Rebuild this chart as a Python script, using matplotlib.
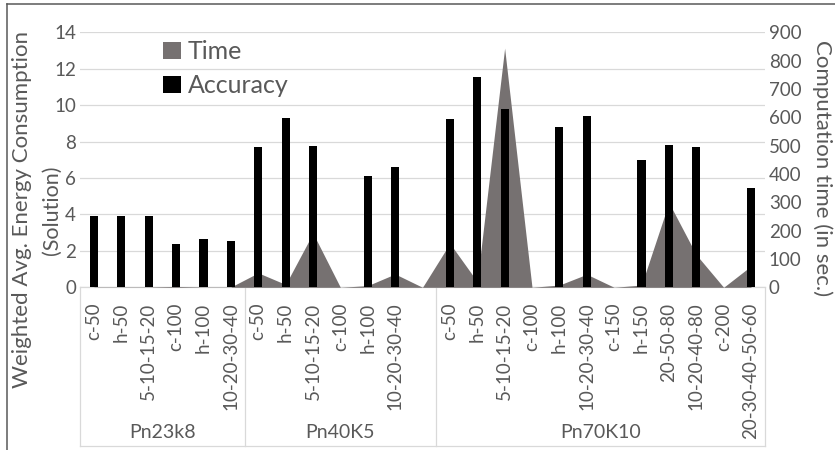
import matplotlib
matplotlib.use('Agg')
import matplotlib.pyplot as plt
import numpy as np
from matplotlib.patches import Patch
from matplotlib.lines import Line2D

# ---------------- data ----------------
categories = ['c-50', 'h-50', '5-10-15-20', 'c-100', 'h-100', '10-20-30-40',
              'c-50', 'h-50', '5-10-15-20', 'c-100', 'h-100', '10-20-30-40', '',
              'c-50', 'h-50', '5-10-15-20', 'c-100', 'h-100', '10-20-30-40',
              'c-150', 'h-150', '20-50-80', '10-20-40-80', 'c-200', '20-30-40-50-60']
groups = ['Pn23k8', 'Pn40K5', 'Pn70K10']
group_sizes = [6, 7, 12]
accuracy = [3.9, 3.9, 3.9, 2.38, 2.64, 2.54,
            7.69, 9.32, 7.78, 0, 6.1, 6.59, 0,
            9.26, 11.55, 9.79, 0, 8.82, 9.39, 0, 6.99, 7.81, 7.70, 0, 5.45]
time_sec = [1, 1, 1, 3, 1, 1,
            51, 10, 191, 0, 6, 47, 0,
            155, 20, 844, 0, 8, 46, 0, 8, 299, 115, 0, 75]
left_ticks = [0, 2, 4, 6, 8, 10, 12, 14]
right_ticks = [0, 100, 200, 300, 400, 500, 600, 700, 800, 900]
legend_labels = ['Time', 'Accuracy']

# ---------------- style ----------------
plt.rcParams['font.family'] = ['Lato', 'DejaVu Sans']
TXT = '#595959'
GRID = '#D9D9D9'
AREA = '#767171'
BAR = '#000000'

W, H = 835, 450
fig = plt.figure(figsize=(W / 100, H / 100), dpi=100)
fig.patch.set_facecolor('white')

left_px, right_px, top_px, bot_px = 80.3, 764.7, 32.3, 287.3
pos = [left_px / W, 1 - bot_px / H, (right_px - left_px) / W, (bot_px - top_px) / H]

ax = fig.add_axes(pos)          # grid, left ticks, category labels
ax2 = ax.twinx()                # time area (right axis)
ax3 = fig.add_axes(pos, sharex=ax)  # accuracy bars
ax.set_zorder(1)
ax2.set_zorder(2)
ax3.set_zorder(3)
ax2.patch.set_visible(False)

x = np.arange(len(categories))

# area
ax2.fill_between(x, time_sec, 0, color=AREA, lw=0)
ax2.set_ylim(0, 900)
ax2.set_yticks(right_ticks)
ax2.tick_params(axis='y', length=0, pad=3, labelsize=13.5, labelcolor=TXT)

# bars
ax3.bar(x, accuracy, width=0.3, color=BAR, lw=0)
ax3.set_ylim(0, 14)
ax3.axis('off')

# primary axis
ax.set_xlim(-0.5, len(categories) - 0.5)
ax.set_ylim(0, 14)
ax.set_yticks(left_ticks)
ax.yaxis.grid(True, color=GRID, lw=0.9)
ax.set_axisbelow(True)
ax.tick_params(axis='y', length=0, pad=3, labelsize=13.5, labelcolor=TXT)
ax.set_xticks(x)
ax.set_xticklabels(categories, rotation=90, fontsize=13.5, color=TXT)
ax.tick_params(axis='x', length=0, pad=11)
for a in (ax, ax2):
    for s in a.spines.values():
        s.set_visible(False)
ax.spines['bottom'].set_visible(True)
ax.spines['bottom'].set_color(GRID)
ax.spines['bottom'].set_linewidth(0.9)

# category table below the axis
tr = ax.get_xaxis_transform()
table_bottom = -(445.5 - bot_px) / (bot_px - top_px)
label_y = -(432 - bot_px) / (bot_px - top_px)
bounds = np.concatenate([[0], np.cumsum(group_sizes)]) - 0.5
ax.plot([bounds[0], bounds[-1]], [table_bottom, table_bottom], transform=tr,
        color=GRID, lw=0.9, clip_on=False)
for b in bounds:
    ax.plot([b, b], [0, table_bottom], transform=tr, color=GRID, lw=0.9, clip_on=False)
for g, a_, b_ in zip(groups, bounds[:-1], bounds[1:]):
    ax.text((a_ + b_) / 2, label_y, g, transform=tr, ha='center', va='center',
            fontsize=14, color=TXT)

# axis titles
fig.text(22 / W, 1 - 210 / H, 'Weighted Avg. Energy Consumption', rotation=90,
         ha='center', va='center', fontsize=16, color=TXT)
fig.text(52 / W, 1 - 210 / H, '(Solution)', rotation=90,
         ha='center', va='center', fontsize=15.5, color=TXT)
fig.text(822 / W, 1 - 168 / H, 'Computation time (in sec.)', rotation=-90,
         ha='center', va='center', fontsize=16, color=TXT)

# legend
handles = [Patch(facecolor=AREA, edgecolor='none'), Patch(facecolor=BAR, edgecolor='none')]
leg = ax3.legend(handles, legend_labels, loc='upper left',
                 bbox_to_anchor=(163 / W, 1 - 40 / H), bbox_transform=fig.transFigure,
                 frameon=False, fontsize=18, handlelength=0.7, handleheight=0.65,
                 handletextpad=0.3, labelspacing=0.45, borderpad=0, borderaxespad=0)
for t in leg.get_texts():
    t.set_color(TXT)

# chart border (top and left visible)
fig.add_artist(Line2D([7 / W, 1], [1 - 4 / H, 1 - 4 / H], transform=fig.transFigure,
                      color='#595959', lw=1.1))
fig.add_artist(Line2D([7 / W, 7 / W], [0, 1 - 4 / H], transform=fig.transFigure,
                      color='#595959', lw=1.1))

fig.savefig('out.png', dpi=100)
